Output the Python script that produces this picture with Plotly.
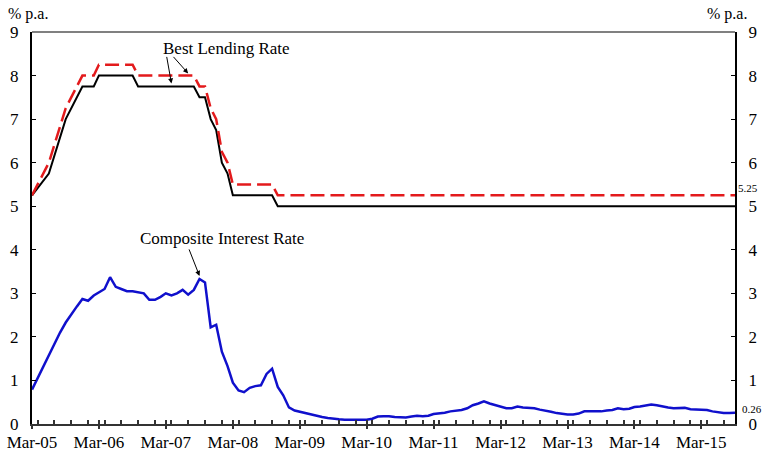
import plotly.graph_objects as go
import pandas as pd

# Composite interest rate, monthly Mar-05 .. Sep-15
cir_2005 = [0.79, 1.05, 1.32, 1.58, 1.85, 2.10, 2.33, 2.52, 2.70, 2.87]
cir_2006 = [2.83, 2.95, 3.02, 3.10, 3.37, 3.15, 3.10, 3.05, 3.05, 3.02, 3.00, 2.85]
cir_2007 = [2.85, 2.92, 3.00, 2.95, 3.00, 3.08, 2.97, 3.08, 3.33, 3.25, 2.22, 2.28]
cir_2008 = [1.66, 1.33, 0.95, 0.77, 0.73, 0.83, 0.87, 0.89, 1.15, 1.27, 0.85, 0.66]
cir_2009 = [0.38, 0.31, 0.28, 0.25, 0.23, 0.19, 0.16, 0.14, 0.12, 0.11, 0.10, 0.10]
cir_2010 = [0.10, 0.10, 0.10, 0.12, 0.17, 0.18, 0.18, 0.16, 0.15, 0.15, 0.17, 0.19]
cir_2011 = [0.18, 0.19, 0.23, 0.24, 0.26, 0.29, 0.30, 0.32, 0.36, 0.43, 0.47, 0.52]
cir_2012 = [0.47, 0.43, 0.39, 0.36, 0.36, 0.40, 0.38, 0.37, 0.36, 0.33, 0.31, 0.28]
cir_2013 = [0.25, 0.23, 0.22, 0.22, 0.24, 0.29, 0.29, 0.29, 0.29, 0.31, 0.32, 0.36]
cir_2014 = [0.34, 0.35, 0.39, 0.40, 0.43, 0.45, 0.43, 0.40, 0.38, 0.36, 0.36, 0.37]
cir_2015 = [0.34, 0.33, 0.32, 0.32, 0.29, 0.27, 0.25, 0.25, 0.26]
cir = (cir_2005 + cir_2006 + cir_2007 + cir_2008 + cir_2009 + cir_2010
       + cir_2011 + cir_2012 + cir_2013 + cir_2014 + cir_2015)
cir_dates = pd.date_range("2005-03-01", periods=len(cir), freq="MS")

# Best lending rate (lower end) - points where it changes
blr_low_dates = ["2005-03-01", "2005-06-01", "2005-09-01", "2005-12-01", "2006-02-01",
                 "2006-03-01", "2006-09-01", "2006-10-01", "2007-08-01", "2007-09-01",
                 "2007-10-01", "2007-11-01", "2007-12-01", "2008-01-01", "2008-02-01",
                 "2008-03-01", "2008-10-01", "2008-11-01", "2015-09-01"]
blr_low = [5.25, 5.75, 7.0, 7.75, 7.75, 8.0, 8.0, 7.75, 7.75, 7.5,
           7.5, 7.0, 6.75, 6.0, 5.75, 5.25, 5.25, 5.0, 5.0]

# Best lending rate (upper end)
blr_high_dates = blr_low_dates
blr_high = [5.25, 6.0, 7.25, 8.0, 8.0, 8.25, 8.25, 8.0, 8.0, 7.75,
            7.75, 7.25, 7.0, 6.25, 6.0, 5.5, 5.5, 5.25, 5.25]

FONT = "'Liberation Serif', 'Times New Roman', serif"

fig = go.Figure()
fig.add_trace(go.Scatter(x=blr_low_dates, y=blr_low, mode="lines",
                         line=dict(color="black", width=2)))
fig.add_trace(go.Scatter(x=blr_high_dates, y=blr_high, mode="lines",
                         line=dict(color="#E31A1C", width=2.5, dash="14px,6px")))
fig.add_trace(go.Scatter(x=cir_dates, y=cir, mode="lines",
                         line=dict(color="#1010CC", width=2.5)))
# dummy trace for right axis
fig.add_trace(go.Scatter(x=["2005-03-01"], y=[0], yaxis="y2", mode="none", hoverinfo="skip"))
# dummy trace on xaxis2 so the outside major ticks render
fig.add_trace(go.Scatter(x=["2005-03-01"], y=[0], xaxis="x2", mode="none", hoverinfo="skip"))

# Text labels and arrows
fig.add_annotation(x="2008-01-25", y=8.63, text="Best Lending Rate", showarrow=False,
                   font=dict(size=17, family=FONT, color="black"))
fig.add_annotation(x="2007-04-01", y=7.82, text="", showarrow=True, ax=-5, ay=-28,
                   arrowhead=2, arrowsize=1, arrowwidth=1, arrowcolor="black")
fig.add_annotation(x="2007-07-01", y=8.05, text="", showarrow=True, ax=-16, ay=-18,
                   arrowhead=2, arrowsize=1, arrowwidth=1, arrowcolor="black")
fig.add_annotation(x="2008-01-01", y=4.25, text="Composite Interest Rate", showarrow=False,
                   font=dict(size=17, family=FONT, color="black"))
fig.add_annotation(x="2007-09-01", y=3.4, text="", showarrow=True, ax=-11, ay=-28,
                   arrowhead=2, arrowsize=1, arrowwidth=1, arrowcolor="black")

fig.add_annotation(xref="paper", x=1.002, y=5.42, text="5.25", showarrow=False,
                   xanchor="left", font=dict(size=11, family=FONT, color="black"))
fig.add_annotation(xref="paper", x=1.007, y=0.34, text="0.26", showarrow=False,
                   xanchor="left", font=dict(size=11, family=FONT, color="black"))
fig.add_annotation(xref="paper", yref="paper", x=-0.037, y=1.045, text="% p.a.",
                   showarrow=False, xanchor="left", yanchor="middle",
                   font=dict(size=16, family=FONT, color="black"))
fig.add_annotation(xref="paper", yref="paper", x=1.02, y=1.045, text="% p.a.",
                   showarrow=False, xanchor="right", yanchor="middle",
                   font=dict(size=16, family=FONT, color="black"))

# grey top border
fig.add_shape(type="line", xref="paper", yref="paper", x0=0, x1=1, y0=1, y1=1,
              line=dict(color="#808080", width=2))

fig.update_layout(
    width=767, height=457,
    margin=dict(l=32, r=32, t=32, b=33),
    plot_bgcolor="white", paper_bgcolor="white",
    showlegend=False,
    font=dict(family=FONT, size=17, color="black"),
    xaxis=dict(
        type="date", range=["2005-03-01", "2015-09-01"], automargin=False,
        tick0="2005-03-01", dtick="M12", tickformat="%b-%y",
        ticks="inside", ticklen=4, tickcolor="#333", tickwidth=1.5,
        minor=dict(dtick="M3", ticks="inside", ticklen=4, tickcolor="#333", tickwidth=1.5),
        showline=True, linecolor="#333", linewidth=2,
        showgrid=False, zeroline=False, ticklabelstandoff=2,
        tickfont=dict(size=17, family=FONT),
    ),
    xaxis2=dict(
        type="date", range=["2005-03-01", "2015-09-01"], overlaying="x", automargin=False,
        anchor="y", side="bottom",
        tick0="2005-03-01", dtick="M12", ticks="outside", ticklen=4,
        tickcolor="#333", tickwidth=1.5, showticklabels=False,
        showline=False, showgrid=False, zeroline=False,
    ),
    yaxis=dict(
        range=[0, 9], dtick=1, ticks="inside", ticklen=4, tickcolor="black",
        showline=True, linecolor="black", linewidth=2, automargin=False,
        showgrid=False, zeroline=False, ticklabelstandoff=8,
        tickfont=dict(size=17, family=FONT),
    ),
    yaxis2=dict(
        range=[0, 9], dtick=1, overlaying="y", side="right", anchor="x",
        ticks="inside", ticklen=4, tickcolor="black", automargin=False,
        showline=True, linecolor="black", linewidth=2,
        showgrid=False, zeroline=False, ticklabelstandoff=8,
        tickfont=dict(size=17, family=FONT),
    ),
)

# page body has a default margin; remove it so the chart sits at the window corner
fig.write_html("out.html", config={"displayModeBar": False},
               post_script="document.body.style.margin='0';")
